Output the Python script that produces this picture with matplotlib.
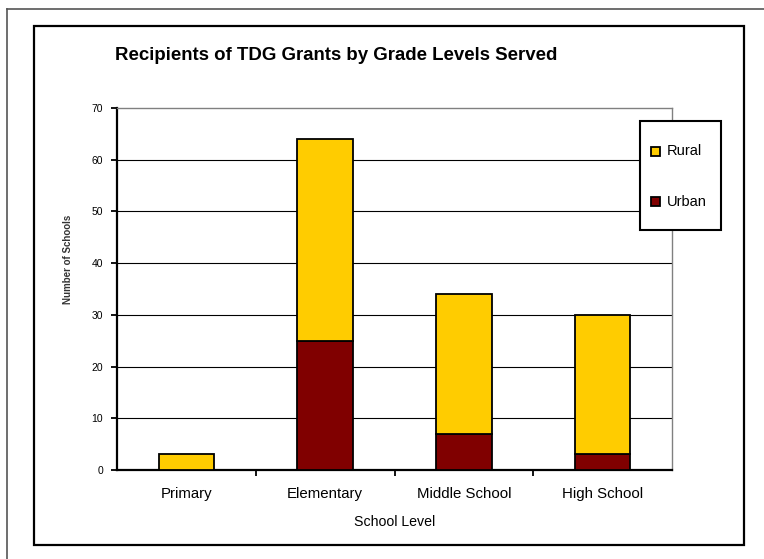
import matplotlib
matplotlib.use("Agg")
import matplotlib.pyplot as plt
from matplotlib.patches import Rectangle
from matplotlib.lines import Line2D
import numpy as np

plt.rcParams['font.family'] = ['Liberation Sans', 'DejaVu Sans']

categories = ["Primary", "Elementary", "Middle School", "High School"]
urban = [0, 25, 7, 3]
rural = [3, 39, 27, 27]
yticks = [0, 10, 20, 30, 40, 50, 60, 70]
series_names = ["Rural", "Urban"]
series_colors = ["#FFCC00", "#800000"]

W, H = 764, 559
fig = plt.figure(figsize=(W / 100, H / 100), dpi=100)
ax = fig.add_axes([117 / W, 1 - 470 / H, (672 - 117) / W, (470 - 108) / H])

x = np.arange(len(categories))
bw = 0.40
ax.bar(x, urban, bw, color=series_colors[1], edgecolor="black", linewidth=1.3, zorder=3)
ax.bar(x, rural, bw, bottom=urban, color=series_colors[0], edgecolor="black", linewidth=1.3, zorder=3)

ax.set_xlim(-0.5, len(categories) - 0.5)
ax.set_ylim(0, 70)
ax.set_yticks(yticks)
ax.set_yticklabels([str(v) for v in yticks], fontsize=7.5)
for v in yticks[1:-1]:
    ax.axhline(v, color="black", linewidth=0.8, zorder=1)

ax.set_xticks(x)
ax.set_xticklabels(categories, fontsize=10.8)
ax.tick_params(axis='x', length=0, pad=12)
ax.set_xticks(np.arange(len(categories) - 1) + 0.5, minor=True)
ax.tick_params(axis='x', which='minor', length=4, width=1.3, direction='out')
ax.tick_params(axis='y', length=4, width=1.3, direction='out', pad=6)

for s in ["top", "right"]:
    ax.spines[s].set_color("#808080")
    ax.spines[s].set_linewidth(1.0)
for s in ["left", "bottom"]:
    ax.spines[s].set_color("black")
    ax.spines[s].set_linewidth(1.6)

ax.set_xlabel("School Level", fontsize=10.2, labelpad=10)
ax.set_ylabel("Number of Schools", fontsize=7, fontweight="bold", color="#333333")
ax.yaxis.set_label_coords((73 - 117) / 555, (470 - 259) / 362)

fig.text(115 / W, 1 - 56 / H, "Recipients of TDG Grants by Grade Levels Served",
         fontsize=13.4, fontweight="bold", ha="left", va="center")

# legend (drawn in figure pixel coordinates)
lx0, ly0, lx1, ly1 = 640, 121, 721, 230
fig.add_artist(Rectangle((lx0 / W, 1 - ly1 / H), (lx1 - lx0) / W, (ly1 - ly0) / H,
                         transform=fig.transFigure, facecolor="white", edgecolor="black",
                         linewidth=1.5, zorder=5))
for name, col, yc in zip(series_names, series_colors, [151, 202]):
    fig.add_artist(Rectangle((651 / W, 1 - (yc + 4.5) / H), 9 / W, 9 / H,
                             transform=fig.transFigure, facecolor=col, edgecolor="black",
                             linewidth=1.3, zorder=6))
    fig.text(667 / W, 1 - yc / H, name, fontsize=10.5, ha="left", va="center", zorder=7)

# frames
fig.add_artist(Rectangle((34 / W, 1 - 545 / H), (744 - 34) / W, (545 - 26) / H,
                         transform=fig.transFigure, fill=False, edgecolor="black", linewidth=1.6))
fig.add_artist(Line2D([7 / W, 7 / W], [0, 1 - 9 / H], transform=fig.transFigure,
                      color="#555555", linewidth=1.2))
fig.add_artist(Line2D([7 / W, 1], [1 - 9 / H, 1 - 9 / H], transform=fig.transFigure,
                      color="#555555", linewidth=1.2))

fig.savefig("out.png", dpi=100)
